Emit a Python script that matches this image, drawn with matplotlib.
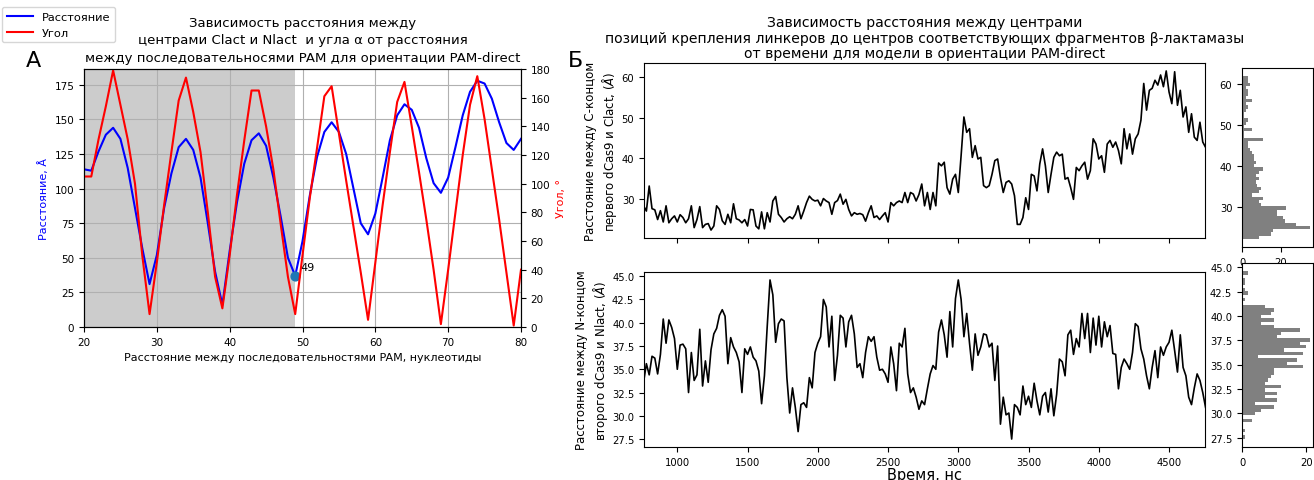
import numpy as np
import matplotlib
matplotlib.use('Agg')
import matplotlib.pyplot as plt
from matplotlib.ticker import MultipleLocator, FormatStrFormatter

# --- панель А: расстояние между PAM (нуклеотиды) ---
pam_dist = np.arange(20, 81)
distance = [114, 113, 127, 139, 144, 136, 115, 86, 57, 31,
            52, 86, 111, 130, 136, 128, 108, 75, 40, 16,
            55, 90, 118, 135, 140, 131, 108, 80, 50, 37,
            62, 95, 123, 141, 148, 141, 125, 100, 75, 67,
            82, 108, 135, 153, 161, 157, 144, 122, 104, 97,
            108, 130, 153, 170, 178, 176, 165, 148, 133, 128,
            136]
angle = [105, 105, 131, 154, 179, 155, 131, 100, 50, 9,
         45, 85, 122, 158, 174, 150, 122, 80, 35, 13,
         50, 92, 130, 165, 165, 140, 110, 72, 35, 9,
         50, 90, 125, 161, 168, 135, 102, 70, 38, 5,
         45, 85, 122, 157, 171, 140, 108, 75, 40, 2,
         40, 80, 120, 155, 175, 145, 110, 75, 38, 1,
         40]
split_x = 49

# --- панель Б: временные ряды, шаг 20 нс ---
time_ns = np.arange(760, 4761, 20)
c_dist = [28.2, 26.9, 33.1, 27.5, 27.2, 24.8, 27.0, 24.2, 28.2, 24.0,
          25.0, 25.7, 24.2, 26.0, 25.3, 24.0, 25.0, 28.2, 22.8, 24.8,
          28.0, 22.8, 23.6, 23.8, 22.2, 23.2, 28.2, 27.3, 24.5, 23.6,
          26.1, 24.0, 28.7, 25.0, 24.7, 24.0, 24.8, 23.2, 27.3, 27.2,
          23.2, 22.5, 26.7, 22.5, 26.5, 24.2, 29.4, 30.5, 26.1, 25.3,
          24.2, 25.0, 25.5, 25.0, 26.1, 28.2, 25.0, 26.9, 29.0, 30.6,
          29.8, 29.4, 29.6, 28.2, 30.0, 29.4, 29.0, 26.1, 29.0, 29.5,
          31.1, 28.6, 29.8, 27.3, 25.7, 26.5, 26.1, 26.3, 26.0, 24.4,
          26.5, 28.2, 25.3, 25.7, 24.8, 25.7, 26.5, 24.2, 29.0, 28.2,
          29.0, 29.4, 29.0, 31.5, 29.0, 31.5, 31.1, 29.4, 31.0, 33.6,
          28.2, 31.5, 27.3, 31.5, 28.2, 38.8, 38.1, 39.0, 32.7, 31.1,
          34.8, 36.0, 31.5, 40.6, 50.2, 46.4, 47.3, 40.2, 43.1, 39.8,
          40.2, 33.2, 32.7, 33.2, 36.0, 39.4, 39.8, 35.2, 31.5, 34.0,
          34.4, 33.6, 30.7, 23.6, 23.6, 25.3, 30.2, 27.3, 36.0, 35.6,
          31.9, 38.6, 42.3, 38.1, 31.5, 36.0, 40.2, 41.5, 40.6, 41.0,
          34.8, 35.2, 32.7, 29.8, 37.7, 36.9, 38.1, 39.0, 34.8, 36.9,
          44.8, 43.5, 39.8, 40.6, 36.5, 43.5, 44.4, 42.7, 44.0, 41.9,
          38.6, 47.3, 42.3, 46.0, 41.0, 44.8, 46.0, 49.4, 58.5, 51.9,
          56.8, 57.3, 59.3, 58.1, 60.6, 57.7, 61.6, 56.4, 53.5, 61.4,
          53.1, 56.8, 50.2, 52.7, 46.4, 51.0, 45.2, 44.4, 48.9, 44.0,
          42.7]
n_dist = [33.6, 35.6, 34.4, 36.4, 36.2, 34.5, 36.6, 40.4, 37.8, 40.3,
          39.5, 38.3, 35.0, 37.6, 37.7, 37.2, 32.5, 36.8, 33.8, 34.4,
          39.3, 33.2, 35.9, 33.6, 37.1, 38.8, 39.4, 40.8, 41.4, 40.7,
          35.6, 38.4, 37.4, 36.8, 35.8, 32.5, 37.2, 36.6, 37.4, 36.3,
          35.9, 34.8, 31.3, 34.3, 39.6, 44.6, 43.0, 37.9, 39.9, 40.4,
          40.2, 34.1, 30.3, 33.0, 30.9, 28.3, 31.2, 31.4, 30.9, 34.1,
          33.0, 36.8, 37.8, 38.5, 42.5, 41.7, 37.4, 40.7, 33.8, 36.5,
          40.8, 40.5, 37.4, 40.1, 40.8, 38.8, 35.2, 35.6, 34.1, 36.8,
          38.5, 38.0, 38.5, 36.3, 34.9, 35.0, 34.5, 33.6, 37.4, 35.6,
          32.7, 37.8, 37.4, 39.4, 34.5, 32.5, 33.0, 32.0, 30.7, 31.6,
          31.2, 32.9, 34.5, 35.4, 35.0, 39.0, 40.3, 38.7, 36.3, 41.2,
          37.4, 42.6, 44.6, 42.5, 38.5, 41.0, 37.8, 34.9, 38.8, 36.5,
          37.4, 38.8, 38.7, 37.4, 37.8, 33.8, 37.5, 29.1, 32.0, 30.1,
          30.3, 27.5, 31.2, 30.9, 30.1, 33.2, 31.2, 32.1, 30.9, 33.5,
          31.6, 30.1, 32.1, 32.5, 30.4, 32.9, 30.0, 32.3, 36.1, 35.8,
          34.3, 38.7, 39.2, 36.6, 38.3, 37.4, 41.0, 38.3, 41.0, 36.8,
          40.5, 37.6, 40.7, 37.4, 40.1, 38.5, 39.7, 36.7, 36.6, 32.9,
          35.2, 36.1, 35.6, 35.0, 36.8, 39.9, 39.6, 37.2, 36.1, 34.3,
          32.9, 35.2, 37.0, 34.1, 37.4, 36.5, 37.4, 37.9, 39.2, 37.0,
          34.7, 38.7, 35.2, 34.3, 32.0, 31.2, 33.0, 34.5, 33.8, 32.5,
          30.9]

# гистограммы (50 бинов), счётчики снизу вверх
c_range = (22.2, 61.9)
c_counts = [9, 15, 16, 35, 28, 22, 21, 18, 18, 23,
            10, 9, 11, 5, 9, 10, 8, 7, 9, 7,
            9, 11, 6, 7, 6, 6, 5, 4, 3, 3,
            11, 1, 1, 5, 1, 2, 3, 1, 1, 2,
            3, 2, 5, 2, 3, 3, 2, 4, 3, 3]
n_range = (27.4, 44.6)
n_counts = [1, 0, 1, 0, 0, 3, 0, 4, 6, 10,
            4, 11, 7, 11, 7, 12, 7, 8, 9, 10,
            10, 19, 14, 17, 5, 19, 13, 20, 18, 21,
            11, 12, 18, 10, 6, 10, 6, 9, 10, 7,
            0, 1, 0, 2, 1, 0, 1, 1, 0, 2]

W, H = 1314, 481
fig = plt.figure(figsize=(W / 100, H / 100), dpi=100)


def box(x0, y0, x1, y1):
    # пиксели (сверху вниз) -> доли фигуры
    return [x0 / W, 1 - y1 / H, (x1 - x0) / W, (y1 - y0) / H]


# ---------------- A ----------------
ax = fig.add_axes(box(84, 70, 521, 328))
ax.axvspan(pam_dist[0], split_x, color='0.8', lw=0)
l1, = ax.plot(pam_dist, distance, color='blue', lw=1.5)
i = list(pam_dist).index(split_x)
ax.scatter([split_x], [distance[i]], s=40, color='#1f77b4', zorder=5)
ax.annotate(str(split_x), (split_x, distance[i]), xytext=(4, 4),
            textcoords='offset points', fontsize=8)
ax.set_xlim(20, 80)
ax.set_ylim(0, 186.5)
ax.grid(True)
ax.tick_params(labelsize=7.5)
ax.set_ylabel('Расстояние, Å', color='blue', fontsize=8)
ax.set_xlabel('Расстояние между последовательностями PAM, нуклеотиды', fontsize=8)
ax.set_title('Зависимость расстояния между\nцентрами Clact и Nlact  и угла α от расстояния\n'
             'между последовательносями PAM для ориентации PAM-direct',
             fontsize=9.5, pad=6, linespacing=1.42)

ax2 = ax.twinx()
l2, = ax2.plot(pam_dist, angle, color='red', lw=1.5)
ax2.set_ylim(0, 180)
ax2.set_yticks(range(0, 181, 20))
ax2.tick_params(labelsize=7.5)
ax2.set_ylabel('Угол, °', color='red', fontsize=8)

fig.legend([l1, l2], ['Расстояние', 'Угол'], loc='upper left',
           bbox_to_anchor=(2 / W, 1 - 8 / H), borderaxespad=0, fontsize=8.2,
           labelspacing=0.55, handlelength=2.3)
fig.text(33 / W, 1 - 61 / H, 'А', fontsize=16, ha='center', va='center')

# ---------------- Б ----------------
ax_c = fig.add_axes(box(644, 64, 1205, 239))
ax_n = fig.add_axes(box(644, 273, 1205, 448), sharex=ax_c)
ax_c.plot(time_ns, c_dist, color='k', lw=1.2)
ax_n.plot(time_ns, n_dist, color='k', lw=1.2)
ax_c.set_xlim(763, 4756)
ax_c.yaxis.set_major_locator(MultipleLocator(10))
ax_c.tick_params(labelbottom=False, labelsize=7.2)
ax_n.tick_params(labelsize=7.2)
ax_c.set_ylabel('Расстояние между С-концом\nпервого dCas9 и Clact, ($\\AA$)', fontsize=8.5)
ax_n.set_ylabel('Расстояние между N-концом\nвторого dCas9 и Nlact, ($\\AA$)', fontsize=8.5)
ax_c.yaxis.set_label_coords(-0.045, 0.5)
ax_n.yaxis.set_label_coords(-0.061, 0.5)
ax_n.set_xlabel('Время, нс', fontsize=10.5, labelpad=0)
ax_c.set_title('Зависимость расстояния между центрами\n'
               'позиций крепления линкеров до центров соответствующих фрагментов β-лактамазы\n'
               'от времени для модели в ориентации PAM-direct',
               fontsize=10.1, pad=4, linespacing=1.15)
fig.text(575 / W, 1 - 61 / H, 'Б', fontsize=16, ha='center', va='center')

h_c = fig.add_axes(box(1242, 69, 1313, 248))
h_n = fig.add_axes(box(1242, 264, 1313, 448))
for hax, counts, rng in [(h_c, c_counts, c_range), (h_n, n_counts, n_range)]:
    edges = np.linspace(rng[0], rng[1], len(counts) + 1)
    centers = (edges[:-1] + edges[1:]) / 2
    hax.hist(centers, bins=edges, weights=counts, orientation='horizontal', color='grey')
    hax.tick_params(labelsize=7.2)
h_c.set_yticks([30, 40, 50, 60])
h_n.set_yticks([27.5, 30, 32.5, 35, 37.5, 40, 42.5, 45])
h_n.yaxis.set_major_formatter(FormatStrFormatter('%.1f'))
h_c.set_xticks([0, 20])
h_n.set_xticks([0, 20])

plt.savefig('out.png', dpi=100)
